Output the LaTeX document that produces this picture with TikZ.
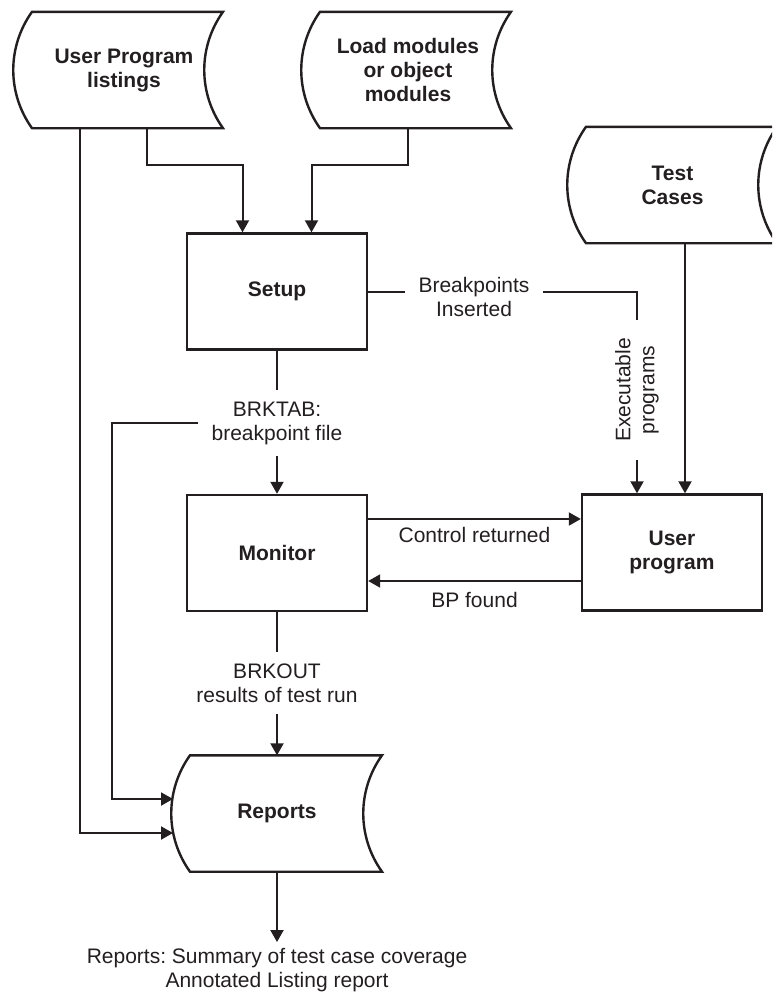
\documentclass[tikz,border=0pt]{standalone}
\usepackage{fontspec}
\setmainfont{Liberation Sans}
\usetikzlibrary{arrows.meta,calc}
\definecolor{ink}{HTML}{231F20}
\frenchspacing

% Outline of a stored-data symbol around a node:
% #1 node name, #2 distance from the node centre to the left corners,
% #3 distance to the right corners; left side bulges out, right side curves in.
\newcommand\storeoutline[3]{%
  \draw[outline] ($(#1.north)+(-#2,0)$) -- ($(#1.north)+(#3,0)$)
    .. controls ($(#1.north)+(#3-25,35)$) and ($(#1.south)+(#3-25,-35)$) .. ($(#1.south)+(#3,0)$)
    -- ($(#1.south)+(-#2,0)$)
    .. controls ($(#1.south)+(-#2-25,-35)$) and ($(#1.north)+(-#2-25,35)$) .. cycle;}

\begin{document}
\begin{tikzpicture}[x=1pt,y=-1pt,
  every node/.style={text=ink},
  lbl/.style={font=\fontsize{21}{24}\selectfont, align=center, inner xsep=13pt, inner ysep=11pt},
  box/.style={draw=ink, line width=2.4pt, minimum width=180pt, minimum height=116pt,
    font=\fontsize{21}{24}\selectfont\bfseries, align=center},
  store/.style={minimum width=190pt, minimum height=116pt, inner sep=0pt,
    font=\fontsize{21}{24}\selectfont\bfseries, align=center},
  outline/.style={draw=ink, line width=2.4pt},
  wire/.style={draw=ink, line width=2pt},
  arr/.style={wire, -{Triangle[length=12pt,width=13pt]}},
]
\useasboundingbox (0,0) rectangle (772,994);
\clip (0,0) rectangle (772,994);

% data stores
\node[store] (ulist) at (124,70) {User Program\\listings};
\node[store] (lmod) at (408,70) {Load modules\\or object\\modules};
\node[store] (tcase) at (672.5,185) {Test\\Cases};
\node[store] (rep) at (277,813.5) {Reports};
\storeoutline{ulist}{92}{99}
\storeoutline{lmod}{88}{103}
\storeoutline{tcase}{86.5}{104.5}
\storeoutline{rep}{87}{105}

% processes
\node[box] (setup) at (277,291.5) {Setup};
\node[box] (monitor) at (277,553) {Monitor};
\node[box] (uprog) at (672,552.5) {User\\program};

% flow labels
\node[lbl] (bp) at (474,296.8) {Breakpoints\\Inserted};
\node[lbl, rotate=90, inner xsep=18pt] (ex) at (637,390) {Executable\\programs};
\node[lbl] (brk) at (277,423) {BRKTAB:\\breakpoint file};
\node[lbl] (bo) at (277,683) {BRKOUT\\results of test run};
\node[lbl] (cr) at (474.5,535) {Control returned};
\node[lbl] (bpf) at (474.5,600.4) {BP found};
\node[lbl, inner ysep=6pt] (out) at (277,970) {Reports: Summary of test case coverage\\Annotated Listing report};

% entry points on the curved side of Reports
\coordinate (rin1) at ($(rep.center)+(-104,-14.5)$);
\coordinate (rin2) at ($(rep.center)+(-104,19.5)$);

% inputs to Setup
\draw[arr] ($(ulist.south)+(23,0)$) -- ++(0,37) -| ($(setup.north)+(-34.5,0)$);
\draw[arr] (lmod.south) -- ++(0,37) -| ($(setup.north)+(34.5,0)$);

% listings straight to Reports
\draw[arr] ($(ulist.south)+(-44,0)$) |- (rin2);

% Setup -> Monitor, breakpoint file to Reports
\draw[wire] (setup.south) -- (brk.north);
\draw[arr] (brk.south) -- (monitor.north);
\draw[arr] (brk.west) -- ++(-86,0) |- (rin1);

% Monitor -> Reports -> printed reports
\draw[wire] (monitor.south) -- (bo.north);
\draw[arr] (bo.south) -- (rep.north);
\draw[arr] (rep.south) -- (out.north);

% Setup -> User program
\draw[wire] (setup.east) -- (setup.east -| bp.west);
\draw[wire] (setup.east -| bp.east) -| (ex.east);
\draw[arr] (ex.west) -- (ex.west |- uprog.north);

% test cases
\draw[arr] ($(tcase.south)+(12.5,0)$) -- ($(uprog.north)+(13,0)$);

% Monitor <-> User program
\coordinate (c1) at ($(monitor.east)+(0,-34)$);
\draw[arr] (c1) -- (c1 -| uprog.west);
\coordinate (c2) at ($(uprog.west)+(0,28.5)$);
\draw[arr] (c2) -- (c2 -| monitor.east);
\end{tikzpicture}
\end{document}
